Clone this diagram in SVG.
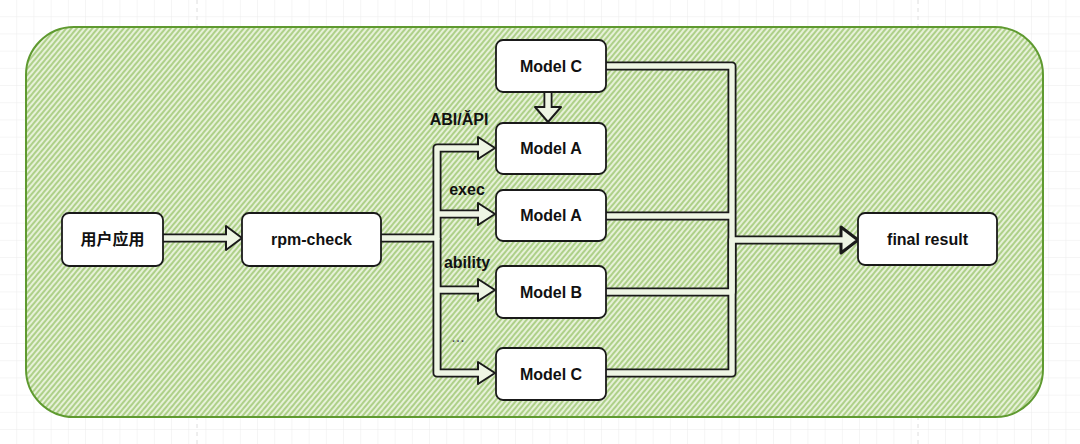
<svg xmlns="http://www.w3.org/2000/svg" width="1080" height="444" viewBox="0 0 1080 444">
<defs>
  <pattern id="grid" width="17.2" height="17.2" patternUnits="userSpaceOnUse">
    <path d="M17.2 0V17.2M0 17.2H17.2" fill="none" stroke="#ececec" stroke-width="1"/>
  </pattern>
  <pattern id="hatch" width="4" height="4" patternUnits="userSpaceOnUse" patternTransform="rotate(40)">
    <rect width="4" height="4" fill="#e6f1d8"/>
    <line x1="1" y1="0" x2="1" y2="4" stroke="#9cc56e" stroke-width="1.5"/>
  </pattern>
  <style>
    .node rect{fill:#ffffff;stroke:#1a1a1a;stroke-width:1.8}
    .node text,.lbl{font-family:"Liberation Sans","Noto Sans CJK SC",sans-serif;font-weight:bold;font-size:16px;fill:#111;text-anchor:middle}
    .lbl{font-size:16px}
    .outer{fill:none;stroke:#1a1a1a;stroke-width:9;stroke-linejoin:round;stroke-linecap:butt}
    .inner{fill:none;stroke:#eef5e4;stroke-width:5.4;stroke-linejoin:round;stroke-linecap:butt}
    .head{fill:#eef5e4;stroke:#1a1a1a;stroke-width:2;stroke-linejoin:round}
  </style>
</defs>
<rect width="1080" height="444" fill="#ffffff"/>
<rect width="1080" height="444" fill="url(#grid)"/>
<line x1="197" y1="0" x2="197" y2="444" stroke="#dedede" stroke-dasharray="4 4"/>
<line x1="918" y1="0" x2="918" y2="444" stroke="#dedede" stroke-dasharray="4 4"/>

<g id="container">
  <rect x="26" y="27" width="1017" height="390" rx="48" ry="48" fill="url(#hatch)" stroke="#5f9a30" stroke-width="2"/>
</g>

<g id="connectors">
  <path class="outer" d="M163 238H227"/>
  <path class="outer" d="M381 238H437V148H479"/>
  <path class="outer" d="M437 238V373H479"/>
  <path class="outer" d="M437 214H479"/>
  <path class="outer" d="M437 290H479"/>
  <path class="outer" d="M606 66H732V240"/>
  <path class="outer" d="M606 216H732"/>
  <path class="outer" d="M606 292H732V240"/>
  <path class="outer" d="M606 373H732V240H842"/>
  <path class="outer" d="M548 92V108"/>
  <polygon class="head" points="226,226 242,238 226,250"/>
  <polygon class="head" points="478,137 495,148 478,159"/>
  <polygon class="head" points="478,203 495,214 478,225"/>
  <polygon class="head" points="478,279 495,290 478,301"/>
  <polygon class="head" points="478,362 495,373 478,384"/>
  <polygon class="head" points="841,227 858,240 841,253" style="stroke-width:3"/>
  <polygon class="head" points="535,107 548,122 561,107"/>
  <path class="inner" d="M163 238H228"/>
  <path class="inner" d="M381 238H437V148H480"/>
  <path class="inner" d="M437 238V373H480"/>
  <path class="inner" d="M437 214H480"/>
  <path class="inner" d="M437 290H480"/>
  <path class="inner" d="M606 66H732V240"/>
  <path class="inner" d="M606 216H732"/>
  <path class="inner" d="M606 292H732V240"/>
  <path class="inner" d="M606 373H732V240H843"/>
  <path class="inner" d="M548 92V109"/>
  <text class="lbl" x="459" y="125">ABI/ǍPI</text>
  <text class="lbl" x="467" y="195">exec</text>
  <text class="lbl" x="467" y="268">ability</text>
  <text class="lbl" x="458" y="342" style="font-weight:normal;fill:#555">...</text>
</g>

<g id="n-app" class="node"><rect x="62" y="213" width="101" height="53" rx="7"/><text x="112.5" y="245">用户应用</text></g>
<g id="n-rpm" class="node"><rect x="242" y="213" width="139" height="53" rx="7"/><text x="311.5" y="245">rpm-check</text></g>
<g id="n-c1" class="node"><rect x="496" y="40" width="110" height="52" rx="7"/><text x="551" y="72">Model C</text></g>
<g id="n-a1" class="node"><rect x="496" y="123" width="110" height="51" rx="7"/><text x="551" y="154">Model A</text></g>
<g id="n-a2" class="node"><rect x="496" y="190" width="110" height="51" rx="7"/><text x="551" y="221">Model A</text></g>
<g id="n-b" class="node"><rect x="496" y="266" width="110" height="52" rx="7"/><text x="551" y="298">Model B</text></g>
<g id="n-c2" class="node"><rect x="496" y="348" width="110" height="52" rx="7"/><text x="551" y="380">Model C</text></g>
<g id="n-final" class="node"><rect x="858" y="213" width="139" height="52" rx="7"/><text x="927.5" y="245">final result</text></g>
</svg>
